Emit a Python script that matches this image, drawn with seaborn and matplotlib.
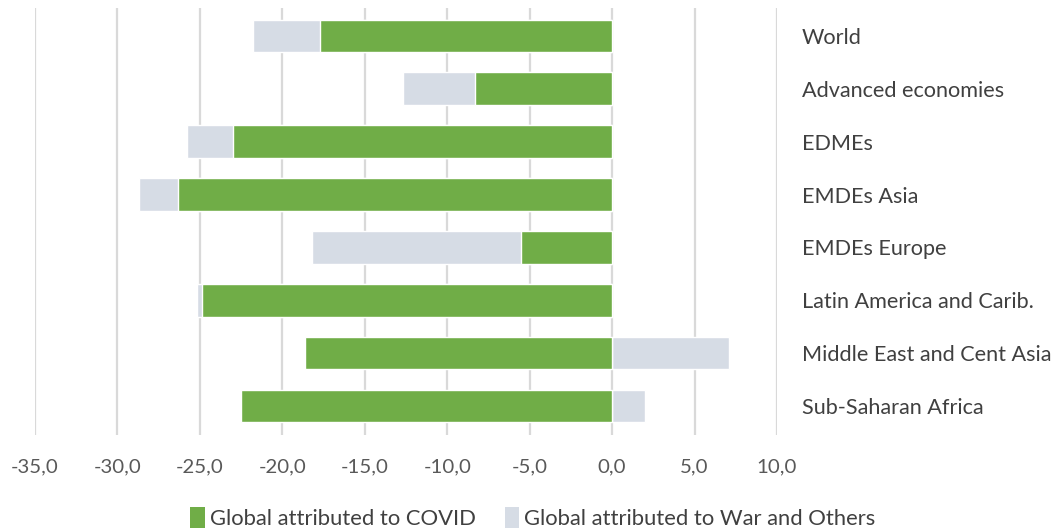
import numpy as np
import pandas as pd
import matplotlib
matplotlib.use("Agg")
import matplotlib.pyplot as plt
import seaborn as sns
from matplotlib.patches import Patch

categories = ["World", "Advanced economies", "EDMEs", "EMDEs Asia", "EMDEs Europe",
              "Latin America and Carib.", "Middle East and Cent Asia", "Sub-Saharan Africa"]
covid = [-17.7, -8.3, -23.0, -26.3, -5.5, -24.9, -18.6, -22.5]
war_others = [-4.1, -4.4, -2.8, -2.4, -12.7, -0.3, 7.1, 2.0]
x_ticks = [-35, -30, -25, -20, -15, -10, -5, 0, 5, 10]

GREEN = "#70AD47"
GREY = "#D6DCE5"

sns.set_theme(style="white")
plt.rcParams['font.family'] = ['Lato', 'DejaVu Sans']

covid_a = np.array(covid)
war_a = np.array(war_others)
grey_extent = np.where(war_a < 0, covid_a + war_a, war_a)

df = pd.DataFrame({"cat": categories, "covid": covid_a, "grey": grey_extent})

fig = plt.figure(figsize=(10.58, 5.32), dpi=100)
ax = fig.add_axes([35/1058, 1-435/532, (777-35)/1058, (435-8)/532])

sns.barplot(data=df, y="cat", x="grey", color=GREY, orient="h", width=0.62,
            saturation=1, ax=ax, order=categories)
sns.barplot(data=df, y="cat", x="covid", color=GREEN, orient="h", width=0.62,
            saturation=1, ax=ax, order=categories)

ax.set_xlim(-35, 10)
ax.set_ylim(7.55, -0.53)
ax.set_xticks(x_ticks)
ax.set_xticklabels([f"{v:.1f}".replace(".", ",") for v in x_ticks], color="#595959", fontsize=14.7)
ax.tick_params(axis="x", length=0, pad=17)
ax.grid(axis="x", color="#D9D9D9", linewidth=1.6)
ax.set_axisbelow(True)
ax.yaxis.tick_right()
ax.tick_params(axis="y", length=0, pad=18, labelsize=15.6, labelcolor="#404040")
for s in ax.spines.values():
    s.set_visible(False)
ax.set_xlabel("")
ax.set_ylabel("")

handles = [Patch(facecolor=GREEN, edgecolor="none"), Patch(facecolor=GREY, edgecolor="none")]
fig.legend(handles, ["Global attributed to COVID", "Global attributed to War and Others"],
           loc="center", bbox_to_anchor=(533/1058, 1-518/532), ncol=2, frameon=False,
           fontsize=15.8, handlelength=0.65, handleheight=1.1, handletextpad=0.25,
           columnspacing=1.3, labelcolor="#404040")

fig.savefig("out.png", dpi=100)
